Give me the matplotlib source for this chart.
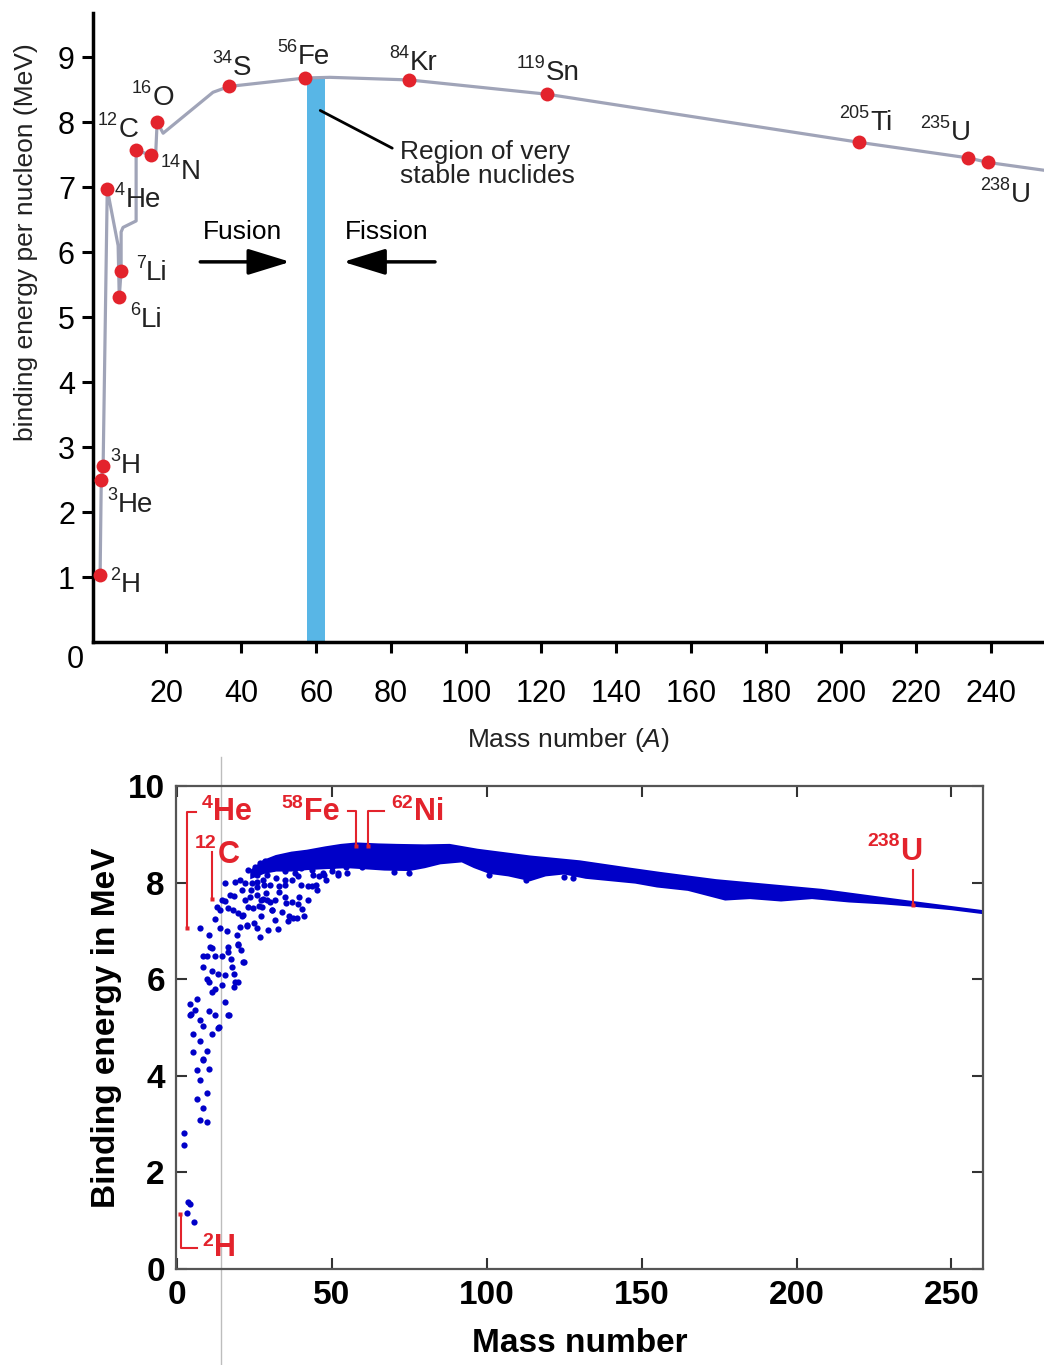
import matplotlib
matplotlib.use("Agg")
import matplotlib.pyplot as plt
import numpy as np

plt.rcParams["font.family"] = ["Liberation Sans", "DejaVu Sans"]
plt.rcParams["mathtext.fontset"] = "custom"
plt.rcParams["mathtext.rm"] = "Liberation Sans"
plt.rcParams["mathtext.it"] = "Liberation Sans:italic"
plt.rcParams["mathtext.bf"] = "Liberation Sans:bold"

# ---- top chart: textbook curve with selected nuclides ----
curve_A = [2.4, 2.7, 3.2, 4.3, 7.2, 7.5, 8.0, 8.0, 8.5, 12.0, 12.0, 16.0, 17.2, 17.6, 19.2,
           32.5, 36.8, 57.1, 63.7, 84.8, 121.6, 204.8, 233.9, 239.2, 254.1]
curve_BE = [1.03, 2.49, 2.71, 6.97, 6.10, 5.31, 5.71, 6.31, 6.38, 6.48, 7.57, 7.49, 7.49, 8.00, 7.83,
            8.46, 8.55, 8.68, 8.69, 8.65, 8.43, 7.69, 7.45, 7.38, 7.26]

nuc_mass = ["2", "3", "3", "4", "6", "7", "12", "14", "16", "34", "56", "84", "119", "205", "235", "238"]
nuc_sym = ["H", "H", "He", "He", "Li", "Li", "C", "N", "O", "S", "Fe", "Kr", "Sn", "Ti", "U", "U"]
nuc_A = [2.4, 3.2, 2.7, 4.3, 7.5, 8.0, 12.0, 16.0, 17.6, 36.8, 57.1, 84.8, 121.6, 204.8, 233.9, 239.2]
nuc_BE = [1.03, 2.71, 2.49, 6.97, 5.31, 5.71, 7.57, 7.49, 8.00, 8.55, 8.68, 8.65, 8.43, 7.69, 7.45, 7.38]
# label anchor (junction between superscript and symbol), in data units
nuc_lab_x = [8.0, 8.0, 7.2, 9.1, 13.3, 14.7, 7.2, 24.0, 16.3, 37.9, 55.2, 85.1, 121.3, 207.7, 229.3, 245.3]
nuc_lab_y = [0.88, 2.71, 2.11, 6.80, 4.95, 5.68, 7.88, 7.23, 8.37, 8.83, 9.00, 8.91, 8.75, 7.98, 7.83, 6.88]

stable_band = [57.6, 62.4]
stable_top = 8.68

# ---- bottom chart: all nuclides ----
low_A = [2.4, 2.4, 3.7, 4.2, 3.4, 5.5, 6.4, 10.4, 7.4, 9.6, 6.4, 8.5, 7.4, 9.6, 8.5,
         10.7, 11.2, 16.6, 16.6, 19.6, 20.7, 8.5, 9.6, 12.3, 14.4, 17.4, 21.4, 8.5, 17.7, 11.4,
         13.3, 15.5, 18.5, 9.6, 10.3, 19.8, 14.4, 18.5, 12.3, 11.4, 6.4, 15.5, 4.2, 5.8, 4.7,
         4.2, 10.4, 12.3, 16.6, 7.4, 8.5, 13.3, 5.3, 11.4, 7.4, 5.3, 9.6, 8.5,
         7.4, 10.4, 15.5, 12.3, 12.8, 13.9, 14.4, 15.5, 17.1, 18.5, 16.6, 18.2, 18.7, 20.3, 22.0,
         13.9, 16.1, 19.8, 21.4, 20.3, 22.5, 19.3, 19.8, 26.8, 23.0, 25.2, 26.8, 28.4, 24.1, 25.7,
         27.9, 23.6, 25.7, 27.9, 24.6, 27.4, 30.6, 22.5, 25.7, 29.5, 32.7, 31.7, 31.7, 34.9, 37.6,
         38.7, 40.3, 42.4, 45.1, 34.9, 39.2, 42.4, 24.9, 21.1, 21.6, 18.9, 13.6, 16.8,
         28.6, 32.9, 37.2, 35.1, 39.4, 43.7, 45.9, 30.8, 26.5, 36.2, 43.7, 50.2, 54.5, 59.8,
         100.8, 105.1, 109.4, 112.6, 113.7, 110.5, 125.0, 128.0, 70.0, 75.0, 52.0, 47.5,
         26.0, 29.0, 31.0, 33.0, 36.0, 38.0, 41.0, 44.0, 30.0, 33.0, 35.0, 38.0, 40.0, 43.0,
         46.0, 34.0, 37.0, 40.0, 44.0, 47.0, 50.0, 27.0, 29.0, 23.0, 24.0, 22.0, 21.0, 26.0,
         28.0, 36.0, 41.0, 39.0, 45.0, 48.0, 52.0, 55.0, 35.0, 32.0, 30.0, 27.0]
low_BE = [2.82, 2.57, 1.39, 1.35, 1.15, 0.97, 4.12, 4.15, 3.91, 3.65, 3.52, 3.34, 3.08, 3.04, 4.33,
          6.67, 6.64, 6.66, 6.57, 6.71, 6.60, 6.47, 6.49, 6.49, 6.48, 6.41, 6.36, 6.25, 6.25, 6.16,
          6.10, 6.08, 6.11, 6.00, 5.95, 5.95, 5.87, 5.83, 5.80, 5.73, 5.59, 5.52, 5.48, 5.36, 5.28,
          5.26, 5.35, 5.26, 5.26, 5.16, 5.03, 4.98, 4.87, 4.87, 4.72, 4.49, 4.52, 4.34,
          7.06, 6.92, 7.99, 7.24, 7.49, 7.44, 7.64, 7.61, 7.74, 7.72, 7.47, 7.43, 8.02, 8.05, 8.00,
          7.06, 6.99, 7.37, 7.33, 7.09, 7.10, 6.92, 6.72, 6.88, 8.26, 8.33, 8.40, 8.44, 7.99, 8.02,
          8.05, 7.71, 7.74, 7.67, 7.47, 7.49, 7.44, 7.12, 7.06, 7.02, 7.04, 7.23, 7.64, 7.71, 7.27,
          7.27, 7.45, 7.64, 7.85, 8.05, 8.13, 7.92, 7.16, 7.30, 6.36, 5.95, 5.02, 5.26,
          7.78, 7.92, 8.05, 7.58, 7.71, 7.92, 8.13, 7.43, 7.51, 7.30, 8.26, 8.33, 8.33, 8.33,
          8.16, 8.33, 8.19, 8.05, 8.12, 8.26, 8.12, 8.10, 8.22, 8.20, 8.20, 8.15,
          7.90, 8.15, 8.30, 8.35, 8.40, 8.45, 8.50, 8.55, 7.60, 7.80, 7.95, 8.20, 8.30, 8.35,
          8.45, 7.40, 7.60, 7.95, 8.15, 8.20, 8.25, 7.30, 7.65, 7.50, 7.85, 7.65, 7.85, 8.15,
          7.95, 7.20, 7.30, 7.55, 7.95, 8.05, 8.15, 8.20, 8.25, 8.10, 7.95, 7.65]

band_up_A = [24, 28, 32, 37, 42, 48, 53, 58, 65, 71, 80, 88, 97, 114, 130, 146, 156, 174, 208, 236, 260]
band_up_BE = [8.25, 8.45, 8.55, 8.62, 8.66, 8.73, 8.78, 8.81, 8.79, 8.78, 8.77, 8.78, 8.68, 8.54,
              8.44, 8.29, 8.20, 8.05, 7.85, 7.61, 7.41]
band_lo_A = [24, 28, 32, 37, 42, 48, 55, 60, 67, 75, 80, 85, 92, 96, 101, 107, 114, 119, 125, 132,
             140, 148, 155, 165, 177, 185, 195, 205, 217, 228, 238, 250, 260]
band_lo_BE = [8.10, 8.20, 8.25, 8.25, 8.28, 8.30, 8.32, 8.30, 8.27, 8.26, 8.32, 8.40, 8.44, 8.32,
              8.20, 8.15, 8.05, 8.15, 8.19, 8.10, 8.05, 8.00, 7.92, 7.85, 7.65, 7.68, 7.63, 7.68,
              7.61, 7.57, 7.52, 7.45, 7.37]

hl_mass = ["2", "4", "12", "58", "62", "238"]
hl_sym = ["H", "He", "C", "Fe", "Ni", "U"]
hl_A = [1.0, 3.4, 11.4, 57.8, 61.7, 237.7]
hl_BE = [1.13, 7.07, 7.66, 8.76, 8.76, 7.54]
# bracket: x of stem, y where stem turns, x where the short arm ends
hl_stem_x = [1.3, 3.2, 11.4, 57.8, 61.7, 237.7]
hl_turn_y = [0.44, 9.46, 8.63, 9.48, 9.48, 8.26]
hl_arm_x = [6.6, 6.1, 11.4, 55.2, 66.9, 237.7]
hl_lab_x = [12.0, 11.6, 13.1, 40.9, 76.5, 233.6]
hl_lab_y = [0.43, 9.47, 8.57, 9.47, 9.47, 8.64]
hl_rise = [5, 6, 8, 6, 6, 7]

W, H = 1044, 1365
RED = "#e3232c"
fig = plt.figure(figsize=(W / 100, H / 100), dpi=100)


def iso_text(ax, x, y, mass, sym, size, sup_size, rise, **kw):
    ax.text(x, y, sym, ha="left", va="center", fontsize=size, clip_on=False, **kw)
    ax.annotate(mass, xy=(x, y), xytext=(-0.5, rise), textcoords="offset points",
                ha="right", va="center", fontsize=sup_size, annotation_clip=False, **kw)


# ---------------- top ----------------
ax1 = fig.add_axes([93 / W, 1 - 642 / H, (W - 93) / W, (642 - 13) / H])
ax1.set_xlim(0.5, 254.1)
ax1.set_ylim(0, 9.68)
ax1.fill_between(stable_band, 0, stable_top, color="#58b6e6", lw=0, zorder=1)
ax1.plot(curve_A, curve_BE, color="#a0a4b8", lw=2.3, zorder=2, solid_joinstyle="round")
ax1.plot(nuc_A, nuc_BE, "o", color=RED, ms=10, mec="none", zorder=3)
for m, s, x, y in zip(nuc_mass, nuc_sym, nuc_lab_x, nuc_lab_y):
    iso_text(ax1, x, y, m, s, 20, 13, 7, color="#222222")

ax1.text(40.3, 6.31, "Fusion", ha="center", va="center", fontsize=19)
ax1.text(78.9, 6.31, "Fission", ha="center", va="center", fontsize=19)
arrow = dict(arrowstyle="-|>,head_length=1.3,head_width=0.4", lw=2.5, color="black",
             shrinkA=0, shrinkB=0, mutation_scale=20)
ax1.annotate("", xy=(53.1, 5.85), xytext=(29.1, 5.85), arrowprops=arrow)
ax1.annotate("", xy=(67.2, 5.85), xytext=(91.7, 5.85), arrowprops=arrow)
ax1.annotate("", xy=(61.1, 8.18), xytext=(80.3, 7.60),
             arrowprops=dict(arrowstyle="-", lw=2, color="black", shrinkA=0, shrinkB=0))
ax1.text(82.4, 7.35, "Region of very\nstable nuclides", ha="left", va="center",
         fontsize=19, linespacing=1.0, color="#222222")

for side in ("top", "right"):
    ax1.spines[side].set_visible(False)
for side in ("left", "bottom"):
    ax1.spines[side].set_linewidth(2.5)
ax1.set_yticks(range(1, 10))
ax1.set_xticks(range(20, 241, 20))
ax1.tick_params(axis="both", direction="out", length=8, width=2.2, labelsize=22)
ax1.tick_params(axis="x", pad=19)
ax1.tick_params(axis="y", pad=5)
ax1.text(-4.3, -0.28, "0", ha="center", va="center", fontsize=22, clip_on=False)
ax1.set_xlabel(r"Mass number ($\mathit{A}$)", fontsize=19, labelpad=12, color="#222222")
fig.text(26 / W, 1 - 242 / H, "binding energy per nucleon (MeV)", rotation=90,
         ha="center", va="center", fontsize=19, color="#222222")

# ---------------- bottom ----------------
ax2 = fig.add_axes([176 / W, 1 - 1269 / H, (983 - 176) / W, (1269 - 786) / H])
ax2.set_xlim(-0.3, 260.2)
ax2.set_ylim(0, 10)
BLUE = "#0000c8"
ax2.fill(np.r_[band_up_A, band_lo_A[::-1]], np.r_[band_up_BE, band_lo_BE[::-1]],
         color=BLUE, lw=1.5, ec=BLUE, zorder=2)
ax2.plot(low_A, low_BE, "o", color=BLUE, ms=4.5, mec="none", zorder=2)
ax2.axvline(14.2, ymin=-0.2, ymax=1.06, color="#bdbdbd", lw=1, clip_on=False, zorder=1)

for i in range(len(hl_sym)):
    xs = [hl_A[i], hl_stem_x[i], hl_stem_x[i], hl_arm_x[i]]
    ys = [hl_BE[i], hl_BE[i], hl_turn_y[i], hl_turn_y[i]]
    ax2.plot(xs, ys, color=RED, lw=1.5, zorder=3, clip_on=False)
    ax2.plot(hl_A[i], hl_BE[i], "s", color=RED, ms=3, mec="none", zorder=4)
    iso_text(ax2, hl_lab_x[i], hl_lab_y[i], hl_mass[i], hl_sym[i], 22, 14, hl_rise[i],
             color=RED, fontweight="bold")

for sp in ax2.spines.values():
    sp.set_linewidth(1.6)
    sp.set_color("#555555")
ax2.set_xticks(range(0, 251, 50))
ax2.set_yticks(range(0, 11, 2))
ax2.tick_params(direction="in", length=8, width=1.5, top=True, right=True,
                labelsize=24, pad=8, color="#333333")
for lab in ax2.get_xticklabels() + ax2.get_yticklabels():
    lab.set_fontweight("bold")
ax2.set_xlabel("Mass number", fontsize=24, fontweight="bold", labelpad=12)
ax2.set_ylabel("Binding energy in MeV", fontsize=24, fontweight="bold", labelpad=4)

fig.savefig("out.png", dpi=100)
